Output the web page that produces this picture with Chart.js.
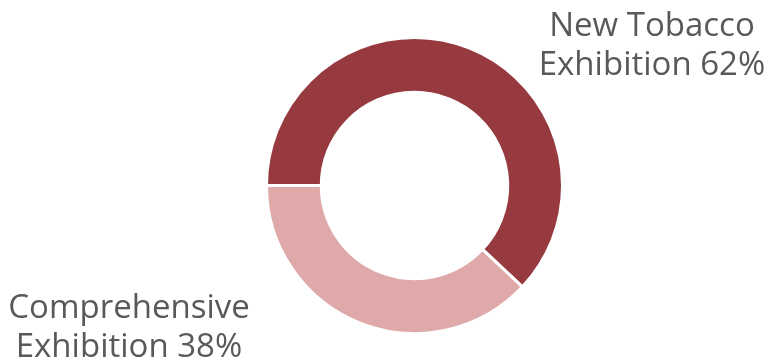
<!DOCTYPE html>
<html>
<head>
<meta charset="utf-8">
<script src="https://cdn.jsdelivr.net/npm/chart.js@4.4.0/dist/chart.umd.min.js"></script>
<style>
  html, body { margin: 0; padding: 0; background: #ffffff; }
  #wrap { width: 768px; height: 361px; position: relative; }
</style>
</head>
<body>
<div id="wrap"><canvas id="Exhibitions"></canvas></div>
<script>
// data
const categoryLabels = ['New Tobacco Exhibition', 'Comprehensive Exhibition'];
const shareData = [62, 38];
const sliceColors = ['#963a40', '#dea9a8'];

// label text lines, one block per category
const labelLines = [
    ['New Tobacco', 'Exhibition 62%'],
    ['Comprehensive', 'Exhibition 38%']
];

// outside labels drawn at fixed spots like the original
const outsideLabels = {
    id: 'outsideLabels',
    afterDraw(chart) {
        const ctx = chart.ctx;
        const spots = [
            { x: 652, y: 36 },
            { x: 129, y: 318 }
        ];
        ctx.save();
        ctx.fillStyle = '#595959';
        ctx.font = '33px "Open Sans", sans-serif';
        ctx.textAlign = 'center';
        ctx.textBaseline = 'alphabetic';
        labelLines.forEach(function (lines, i) {
            lines.forEach(function (line, j) {
                ctx.fillText(line, spots[i].x, spots[i].y + j * 39);
            });
        });
        ctx.restore();
    }
};

const ctx = document.getElementById('Exhibitions').getContext('2d');
const exhibitionChart = new Chart(ctx, {
    type: 'doughnut',
    data: {
        labels: categoryLabels,
        datasets: [{
            data: shareData,
            backgroundColor: sliceColors,
            borderColor: '#ffffff',
            borderWidth: 3
        }]
    },
    options: {
        responsive: true,
        maintainAspectRatio: false,
        animation: false,
        rotation: -90,
        cutout: '63%',
        layout: {
            padding: { top: 36, bottom: 26, left: 265, right: 204 }
        },
        plugins: {
            legend: { display: false },
            tooltip: { enabled: false }
        }
    },
    plugins: [outsideLabels]
});
</script>
</body>
</html>
